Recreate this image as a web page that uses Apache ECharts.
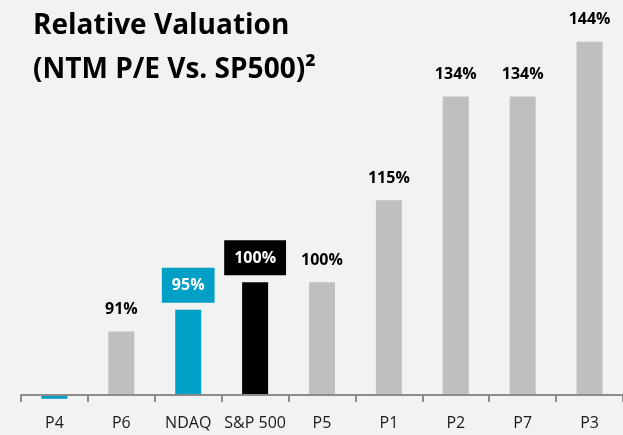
<!DOCTYPE html>
<html>
<head>
<meta charset="utf-8">
<script src="https://cdn.jsdelivr.net/npm/echarts@6/dist/echarts.min.js"></script>
<style>
  html, body { margin: 0; padding: 0; background: #f2f2f2; }
  #chart { width: 623px; height: 435px; }
</style>
</head>
<body>
<div id="chart"></div>
<script>
    var categories = ['P4', 'P6', 'NDAQ', 'S&P 500', 'P5', 'P1', 'P2', 'P7', 'P3'];
    var values = [78.7, 91, 95, 100, 100, 115, 134, 134, 144];
    var labels = ['', '91%', '95%', '100%', '100%', '115%', '134%', '134%', '144%'];
    var colors = ['#00a0c6', '#bfbfbf', '#00a0c6', '#000000', '#bfbfbf', '#bfbfbf', '#bfbfbf', '#bfbfbf', '#bfbfbf'];

    var font = '"Open Sans", sans-serif';

    // NDAQ and the index get their label in a filled box
    var boxed = {
        'NDAQ': '#00a0c6',
        'S&P 500': '#000000'
    };

    var data = [];
    for (var i = 0; i < categories.length; i++) {
        var item = {
            value: values[i],
            itemStyle: { color: colors[i] },
            label: { show: labels[i] !== '', formatter: labels[i] }
        };
        if (boxed[categories[i]]) {
            item.label.color = '#ffffff';
            item.label.backgroundColor = boxed[categories[i]];
            item.label.padding = [10, 10, 9, 10];
            item.label.distance = 7;
        }
        data.push(item);
    }

    var myChart = echarts.init(document.getElementById('chart'));
    myChart.setOption({
        backgroundColor: '#f2f2f2',
        animation: false,
        title: {
            text: 'Relative Valuation\n(NTM P/E Vs. SP500)²',
            left: 28,
            top: -1,
            textStyle: {
                fontFamily: font,
                fontWeight: 'bold',
                fontSize: 28,
                lineHeight: 44,
                color: '#000'
            }
        },
        grid: {
            left: 21,
            right: -5,
            top: 9,
            bottom: 40
        },
        xAxis: {
            type: 'category',
            data: categories,
            z: 10,
            axisLine: { lineStyle: { color: '#8c8c8c', width: 2 } },
            axisTick: { show: true, length: 7, lineStyle: { color: '#8c8c8c', width: 2 } },
            axisLabel: {
                interval: 0,
                hideOverlap: false,
                fontFamily: font,
                fontSize: 16,
                color: '#1a1a1a',
                margin: 20
            }
        },
        yAxis: {
            type: 'value',
            min: 79.4,
            max: 150,
            startValue: 79.4,
            show: false,
            splitLine: { show: false }
        },
        series: [{
            type: 'bar',
            data: data,
            barWidth: 26,
            clip: false,
            label: {
                show: true,
                position: 'top',
                distance: 14,
                fontFamily: font,
                fontWeight: 'bold',
                fontSize: 16,
                color: '#000'
            }
        }]
    });
</script>
</body>
</html>
